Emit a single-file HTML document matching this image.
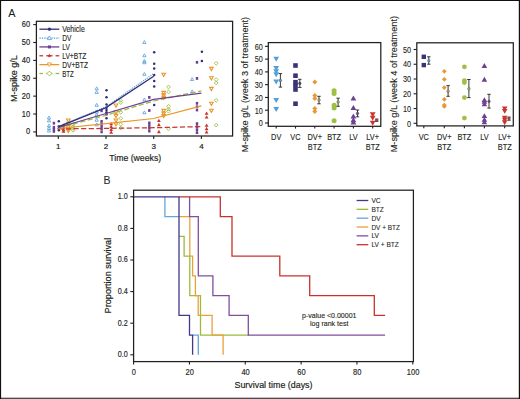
<!DOCTYPE html><html><head><meta charset="utf-8"><style>html,body{margin:0;padding:0;background:#fff;overflow:hidden}svg{display:block}text{font-family:"Liberation Sans",sans-serif;stroke:#231f20}</style></head><body>
<svg width="520" height="399" viewBox="0 0 520 399">
<rect x="0" y="0" width="520" height="399" fill="#fff"/>
<text x="8.3" y="17.2" font-size="11.2" text-anchor="start" fill="#231f20" textLength="7.2" lengthAdjust="spacingAndGlyphs" stroke-width="0.08">A</text>
<line x1="33.20" y1="131.90" x2="36.40" y2="131.90" stroke="#231f20" stroke-width="1.1"/>
<text transform="translate(30.1,134.45000000000002) scale(0.88,1)" font-size="8.5" text-anchor="end" fill="#231f20" stroke-width="0.18">0</text>
<line x1="33.20" y1="114.02" x2="36.40" y2="114.02" stroke="#231f20" stroke-width="1.1"/>
<text transform="translate(30.1,116.57000000000001) scale(0.88,1)" font-size="8.5" text-anchor="end" fill="#231f20" stroke-width="0.18">10</text>
<line x1="33.20" y1="96.14" x2="36.40" y2="96.14" stroke="#231f20" stroke-width="1.1"/>
<text transform="translate(30.1,98.69000000000001) scale(0.88,1)" font-size="8.5" text-anchor="end" fill="#231f20" stroke-width="0.18">20</text>
<line x1="33.20" y1="78.26" x2="36.40" y2="78.26" stroke="#231f20" stroke-width="1.1"/>
<text transform="translate(30.1,80.81) scale(0.88,1)" font-size="8.5" text-anchor="end" fill="#231f20" stroke-width="0.18">30</text>
<line x1="33.20" y1="60.38" x2="36.40" y2="60.38" stroke="#231f20" stroke-width="1.1"/>
<text transform="translate(30.1,62.93000000000001) scale(0.88,1)" font-size="8.5" text-anchor="end" fill="#231f20" stroke-width="0.18">40</text>
<line x1="33.20" y1="42.50" x2="36.40" y2="42.50" stroke="#231f20" stroke-width="1.1"/>
<text transform="translate(30.1,45.05) scale(0.88,1)" font-size="8.5" text-anchor="end" fill="#231f20" stroke-width="0.18">50</text>
<line x1="33.20" y1="24.62" x2="36.40" y2="24.62" stroke="#231f20" stroke-width="1.1"/>
<text transform="translate(30.1,27.170000000000005) scale(0.88,1)" font-size="8.5" text-anchor="end" fill="#231f20" stroke-width="0.18">60</text>
<line x1="58.30" y1="136.00" x2="58.30" y2="139.00" stroke="#231f20" stroke-width="1.1"/>
<text x="58.3" y="149.2" font-size="8.0" text-anchor="middle" fill="#231f20" stroke-width="0.2">1</text>
<line x1="106.00" y1="136.00" x2="106.00" y2="139.00" stroke="#231f20" stroke-width="1.1"/>
<text x="106.0" y="149.2" font-size="8.0" text-anchor="middle" fill="#231f20" stroke-width="0.2">2</text>
<line x1="153.70" y1="136.00" x2="153.70" y2="139.00" stroke="#231f20" stroke-width="1.1"/>
<text x="153.7" y="149.2" font-size="8.0" text-anchor="middle" fill="#231f20" stroke-width="0.2">3</text>
<line x1="201.40" y1="136.00" x2="201.40" y2="139.00" stroke="#231f20" stroke-width="1.1"/>
<text x="201.40000000000003" y="149.2" font-size="8.0" text-anchor="middle" fill="#231f20" stroke-width="0.2">4</text>
<text x="109.2" y="161.1" font-size="9.8" text-anchor="start" fill="#231f20" textLength="52.0" lengthAdjust="spacingAndGlyphs" stroke-width="0.2">Time (weeks)</text>
<text transform="translate(16.5,101.9) rotate(-90)" font-size="9.8" text-anchor="start" fill="#231f20" textLength="46.6" lengthAdjust="spacingAndGlyphs" stroke-width="0.2">M-spike g/L</text>
<polygon points="47.35,118.94 50.65,118.94 49.00,116.06" fill="none" stroke="#5ba3dc" stroke-width="0.85"/>
<polygon points="47.35,121.94 50.65,121.94 49.00,119.06" fill="none" stroke="#5ba3dc" stroke-width="0.85"/>
<polygon points="47.35,126.94 50.65,126.94 49.00,124.06" fill="none" stroke="#5ba3dc" stroke-width="0.85"/>
<polygon points="47.35,129.44 50.65,129.44 49.00,126.56" fill="none" stroke="#5ba3dc" stroke-width="0.85"/>
<polygon points="47.35,131.94 50.65,131.94 49.00,129.06" fill="none" stroke="#5ba3dc" stroke-width="0.85"/>
<polygon points="95.05,89.74 98.35,89.74 96.70,86.86" fill="none" stroke="#5ba3dc" stroke-width="0.85"/>
<polygon points="95.05,93.44 98.35,93.44 96.70,90.56" fill="none" stroke="#5ba3dc" stroke-width="0.85"/>
<polygon points="95.05,106.24 98.35,106.24 96.70,103.36" fill="none" stroke="#5ba3dc" stroke-width="0.85"/>
<polygon points="95.05,113.04 98.35,113.04 96.70,110.16" fill="none" stroke="#5ba3dc" stroke-width="0.85"/>
<polygon points="95.05,116.04 98.35,116.04 96.70,113.16" fill="none" stroke="#5ba3dc" stroke-width="0.85"/>
<polygon points="95.05,121.24 98.35,121.24 96.70,118.36" fill="none" stroke="#5ba3dc" stroke-width="0.85"/>
<polygon points="95.05,125.84 98.35,125.84 96.70,122.96" fill="none" stroke="#5ba3dc" stroke-width="0.85"/>
<polygon points="142.75,43.44 146.05,43.44 144.40,40.56" fill="none" stroke="#5ba3dc" stroke-width="0.85"/>
<polygon points="142.75,56.74 146.05,56.74 144.40,53.86" fill="none" stroke="#5ba3dc" stroke-width="0.85"/>
<polygon points="142.75,62.24 146.05,62.24 144.40,59.36" fill="none" stroke="#5ba3dc" stroke-width="0.85"/>
<polygon points="142.75,63.74 146.05,63.74 144.40,60.86" fill="none" stroke="#5ba3dc" stroke-width="0.85"/>
<polygon points="142.75,75.34 146.05,75.34 144.40,72.46" fill="none" stroke="#5ba3dc" stroke-width="0.85"/>
<polygon points="142.75,100.94 146.05,100.94 144.40,98.06" fill="none" stroke="#5ba3dc" stroke-width="0.85"/>
<polygon points="142.75,113.74 146.05,113.74 144.40,110.86" fill="none" stroke="#5ba3dc" stroke-width="0.85"/>
<polygon points="190.45,80.54 193.75,80.54 192.10,77.66" fill="none" stroke="#5ba3dc" stroke-width="0.85"/>
<polygon points="190.45,92.74 193.75,92.74 192.10,89.86" fill="none" stroke="#5ba3dc" stroke-width="0.85"/>
<rect x="52.70" y="121.80" width="2.4" height="2.8" fill="#6e3f96"/>
<rect x="52.70" y="125.90" width="2.4" height="2.8" fill="#6e3f96"/>
<rect x="52.70" y="128.00" width="2.4" height="2.8" fill="#6e3f96"/>
<rect x="52.70" y="130.00" width="2.4" height="2.8" fill="#6e3f96"/>
<rect x="100.40" y="109.40" width="2.4" height="2.8" fill="#6e3f96"/>
<rect x="100.40" y="120.00" width="2.4" height="2.8" fill="#6e3f96"/>
<rect x="100.40" y="122.60" width="2.4" height="2.8" fill="#6e3f96"/>
<rect x="100.40" y="125.10" width="2.4" height="2.8" fill="#6e3f96"/>
<rect x="100.40" y="127.60" width="2.4" height="2.8" fill="#6e3f96"/>
<rect x="100.40" y="130.50" width="2.4" height="2.8" fill="#6e3f96"/>
<rect x="148.10" y="96.00" width="2.4" height="2.8" fill="#6e3f96"/>
<rect x="148.10" y="109.10" width="2.4" height="2.8" fill="#6e3f96"/>
<rect x="148.10" y="121.50" width="2.4" height="2.8" fill="#6e3f96"/>
<rect x="148.10" y="124.10" width="2.4" height="2.8" fill="#6e3f96"/>
<rect x="148.10" y="126.80" width="2.4" height="2.8" fill="#6e3f96"/>
<rect x="148.10" y="129.70" width="2.4" height="2.8" fill="#6e3f96"/>
<rect x="195.80" y="60.90" width="2.4" height="2.8" fill="#6e3f96"/>
<rect x="195.80" y="77.00" width="2.4" height="2.8" fill="#6e3f96"/>
<rect x="195.80" y="101.90" width="2.4" height="2.8" fill="#6e3f96"/>
<rect x="195.80" y="105.30" width="2.4" height="2.8" fill="#6e3f96"/>
<rect x="195.80" y="108.60" width="2.4" height="2.8" fill="#6e3f96"/>
<rect x="195.80" y="122.20" width="2.4" height="2.8" fill="#6e3f96"/>
<rect x="195.80" y="125.20" width="2.4" height="2.8" fill="#6e3f96"/>
<rect x="195.80" y="128.20" width="2.4" height="2.8" fill="#6e3f96"/>
<rect x="195.80" y="131.20" width="2.4" height="2.8" fill="#6e3f96"/>
<circle cx="58.80" cy="121.30" r="1.25" fill="#332d78"/>
<circle cx="58.80" cy="126.20" r="1.25" fill="#332d78"/>
<circle cx="58.80" cy="128.20" r="1.25" fill="#332d78"/>
<circle cx="58.80" cy="130.30" r="1.25" fill="#332d78"/>
<circle cx="106.50" cy="90.20" r="1.25" fill="#332d78"/>
<circle cx="106.50" cy="97.30" r="1.25" fill="#332d78"/>
<circle cx="106.50" cy="104.40" r="1.25" fill="#332d78"/>
<circle cx="106.50" cy="107.80" r="1.25" fill="#332d78"/>
<circle cx="106.50" cy="110.00" r="1.25" fill="#332d78"/>
<circle cx="106.50" cy="112.30" r="1.25" fill="#332d78"/>
<circle cx="106.50" cy="114.60" r="1.25" fill="#332d78"/>
<circle cx="106.50" cy="118.30" r="1.25" fill="#332d78"/>
<circle cx="154.20" cy="52.30" r="1.25" fill="#332d78"/>
<circle cx="154.20" cy="63.80" r="1.25" fill="#332d78"/>
<circle cx="154.20" cy="68.60" r="1.25" fill="#332d78"/>
<circle cx="154.20" cy="75.10" r="1.25" fill="#332d78"/>
<circle cx="154.20" cy="81.10" r="1.25" fill="#332d78"/>
<circle cx="154.20" cy="86.40" r="1.25" fill="#332d78"/>
<circle cx="154.20" cy="105.00" r="1.25" fill="#332d78"/>
<circle cx="201.90" cy="51.80" r="1.25" fill="#332d78"/>
<circle cx="201.90" cy="61.10" r="1.25" fill="#332d78"/>
<polygon points="61.60,126.65 65.40,126.65 63.50,123.35" fill="#c5362e"/>
<polygon points="61.60,129.15 65.40,129.15 63.50,125.85" fill="#c5362e"/>
<polygon points="61.60,131.15 65.40,131.15 63.50,127.85" fill="#c5362e"/>
<polygon points="61.60,132.65 65.40,132.65 63.50,129.35" fill="#c5362e"/>
<polygon points="109.30,125.25 113.10,125.25 111.20,121.95" fill="#c5362e"/>
<polygon points="109.30,128.15 113.10,128.15 111.20,124.85" fill="#c5362e"/>
<polygon points="109.30,130.95 113.10,130.95 111.20,127.65" fill="#c5362e"/>
<polygon points="109.30,133.65 113.10,133.65 111.20,130.35" fill="#c5362e"/>
<polygon points="157.00,122.05 160.80,122.05 158.90,118.75" fill="#c5362e"/>
<polygon points="157.00,126.15 160.80,126.15 158.90,122.85" fill="#c5362e"/>
<polygon points="157.00,133.15 160.80,133.15 158.90,129.85" fill="#c5362e"/>
<polygon points="204.70,114.75 208.50,114.75 206.60,111.45" fill="#c5362e"/>
<polygon points="204.70,118.45 208.50,118.45 206.60,115.15" fill="#c5362e"/>
<polygon points="204.70,126.75 208.50,126.75 206.60,123.45" fill="#c5362e"/>
<polygon points="204.70,130.15 208.50,130.15 206.60,126.85" fill="#c5362e"/>
<polygon points="204.70,133.55 208.50,133.55 206.60,130.25" fill="#c5362e"/>
<polygon points="66.45,118.99 70.15,118.99 68.30,122.21" fill="none" stroke="#e9972b" stroke-width="1.05"/>
<polygon points="66.45,122.39 70.15,122.39 68.30,125.61" fill="none" stroke="#e9972b" stroke-width="1.05"/>
<polygon points="66.45,125.39 70.15,125.39 68.30,128.61" fill="none" stroke="#e9972b" stroke-width="1.05"/>
<polygon points="66.45,127.89 70.15,127.89 68.30,131.11" fill="none" stroke="#e9972b" stroke-width="1.05"/>
<polygon points="66.45,129.39 70.15,129.39 68.30,132.61" fill="none" stroke="#e9972b" stroke-width="1.05"/>
<polygon points="114.15,103.99 117.85,103.99 116.00,107.21" fill="none" stroke="#e9972b" stroke-width="1.05"/>
<polygon points="114.15,110.69 117.85,110.69 116.00,113.91" fill="none" stroke="#e9972b" stroke-width="1.05"/>
<polygon points="114.15,114.39 117.85,114.39 116.00,117.61" fill="none" stroke="#e9972b" stroke-width="1.05"/>
<polygon points="114.15,118.99 117.85,118.99 116.00,122.21" fill="none" stroke="#e9972b" stroke-width="1.05"/>
<polygon points="114.15,122.79 117.85,122.79 116.00,126.01" fill="none" stroke="#e9972b" stroke-width="1.05"/>
<polygon points="161.85,73.19 165.55,73.19 163.70,76.41" fill="none" stroke="#e9972b" stroke-width="1.05"/>
<polygon points="161.85,91.39 165.55,91.39 163.70,94.61" fill="none" stroke="#e9972b" stroke-width="1.05"/>
<polygon points="161.85,93.89 165.55,93.89 163.70,97.11" fill="none" stroke="#e9972b" stroke-width="1.05"/>
<polygon points="161.85,96.19 165.55,96.19 163.70,99.41" fill="none" stroke="#e9972b" stroke-width="1.05"/>
<polygon points="161.85,109.39 165.55,109.39 163.70,112.61" fill="none" stroke="#e9972b" stroke-width="1.05"/>
<polygon points="161.85,111.99 165.55,111.99 163.70,115.21" fill="none" stroke="#e9972b" stroke-width="1.05"/>
<polygon points="161.85,114.59 165.55,114.59 163.70,117.81" fill="none" stroke="#e9972b" stroke-width="1.05"/>
<polygon points="209.55,67.39 213.25,67.39 211.40,70.61" fill="none" stroke="#e9972b" stroke-width="1.05"/>
<polygon points="209.55,76.79 213.25,76.79 211.40,80.01" fill="none" stroke="#e9972b" stroke-width="1.05"/>
<polygon points="209.55,87.39 213.25,87.39 211.40,90.61" fill="none" stroke="#e9972b" stroke-width="1.05"/>
<polygon points="209.55,102.19 213.25,102.19 211.40,105.41" fill="none" stroke="#e9972b" stroke-width="1.05"/>
<polygon points="209.55,109.19 213.25,109.19 211.40,112.41" fill="none" stroke="#e9972b" stroke-width="1.05"/>
<polygon points="73.10,122.40 75.00,124.30 73.10,126.20 71.20,124.30" fill="none" stroke="#9cbb3c" stroke-width="0.85"/>
<polygon points="73.10,124.60 75.00,126.50 73.10,128.40 71.20,126.50" fill="none" stroke="#9cbb3c" stroke-width="0.85"/>
<polygon points="73.10,126.60 75.00,128.50 73.10,130.40 71.20,128.50" fill="none" stroke="#9cbb3c" stroke-width="0.85"/>
<polygon points="73.10,128.40 75.00,130.30 73.10,132.20 71.20,130.30" fill="none" stroke="#9cbb3c" stroke-width="0.85"/>
<polygon points="120.80,98.40 122.70,100.30 120.80,102.20 118.90,100.30" fill="none" stroke="#9cbb3c" stroke-width="0.85"/>
<polygon points="120.80,100.70 122.70,102.60 120.80,104.50 118.90,102.60" fill="none" stroke="#9cbb3c" stroke-width="0.85"/>
<polygon points="120.80,110.40 122.70,112.30 120.80,114.20 118.90,112.30" fill="none" stroke="#9cbb3c" stroke-width="0.85"/>
<polygon points="120.80,116.40 122.70,118.30 120.80,120.20 118.90,118.30" fill="none" stroke="#9cbb3c" stroke-width="0.85"/>
<polygon points="120.80,122.50 122.70,124.40 120.80,126.30 118.90,124.40" fill="none" stroke="#9cbb3c" stroke-width="0.85"/>
<polygon points="120.80,126.20 122.70,128.10 120.80,130.00 118.90,128.10" fill="none" stroke="#9cbb3c" stroke-width="0.85"/>
<polygon points="168.50,85.10 170.40,87.00 168.50,88.90 166.60,87.00" fill="none" stroke="#9cbb3c" stroke-width="0.85"/>
<polygon points="168.50,90.00 170.40,91.90 168.50,93.80 166.60,91.90" fill="none" stroke="#9cbb3c" stroke-width="0.85"/>
<polygon points="168.50,104.40 170.40,106.30 168.50,108.20 166.60,106.30" fill="none" stroke="#9cbb3c" stroke-width="0.85"/>
<polygon points="168.50,107.20 170.40,109.10 168.50,111.00 166.60,109.10" fill="none" stroke="#9cbb3c" stroke-width="0.85"/>
<polygon points="168.50,109.30 170.40,111.20 168.50,113.10 166.60,111.20" fill="none" stroke="#9cbb3c" stroke-width="0.85"/>
<polygon points="168.50,126.90 170.40,128.80 168.50,130.70 166.60,128.80" fill="none" stroke="#9cbb3c" stroke-width="0.85"/>
<polygon points="216.20,61.40 218.10,63.30 216.20,65.20 214.30,63.30" fill="none" stroke="#9cbb3c" stroke-width="0.85"/>
<polygon points="216.20,77.70 218.10,79.60 216.20,81.50 214.30,79.60" fill="none" stroke="#9cbb3c" stroke-width="0.85"/>
<polygon points="216.20,81.10 218.10,83.00 216.20,84.90 214.30,83.00" fill="none" stroke="#9cbb3c" stroke-width="0.85"/>
<polygon points="216.20,98.40 218.10,100.30 216.20,102.20 214.30,100.30" fill="none" stroke="#9cbb3c" stroke-width="0.85"/>
<polygon points="216.20,123.20 218.10,125.10 216.20,127.00 214.30,125.10" fill="none" stroke="#9cbb3c" stroke-width="0.85"/>
<polyline points="58.30,128.90 106.00,128.40 153.70,127.70 201.40,126.60" fill="none" stroke="#c5362e" stroke-width="1.25" stroke-dasharray="5.2,2.4"/>
<polyline points="58.30,128.50 106.00,123.60 153.70,118.50 201.40,105.90" fill="none" stroke="#e9972b" stroke-width="1.25"/>
<polyline points="58.30,128.00 106.00,115.30 153.70,101.00 201.40,90.80" fill="none" stroke="#9cbb3c" stroke-width="1.25" stroke-dasharray="5.2,2.4"/>
<polyline points="58.30,127.50 106.00,113.50 153.70,99.30 201.40,93.20" fill="none" stroke="#6e3f96" stroke-width="1.25"/>
<polyline points="58.30,126.40 106.00,106.80 153.70,73.60" fill="none" stroke="#5ba3dc" stroke-width="1.25" stroke-dasharray="1.2,1"/>
<polyline points="58.30,126.80 106.00,107.60 153.70,76.20" fill="none" stroke="#332d78" stroke-width="1.25"/>
<line x1="39.4" y1="29.20" x2="59.3" y2="29.20" stroke="#332d78" stroke-width="1.3"/>
<circle cx="49.40" cy="29.20" r="1.6" fill="#332d78"/>
<text x="62.2" y="32.2" font-size="8.6" text-anchor="start" fill="#231f20" textLength="22.6" lengthAdjust="spacingAndGlyphs" stroke-width="0.12">Vehicle</text>
<line x1="39.4" y1="38.06" x2="59.3" y2="38.06" stroke="#5ba3dc" stroke-width="1.3" stroke-dasharray="1.4,1"/>
<polygon points="47.30,39.59 51.50,39.59 49.40,35.93" fill="#fff" stroke="#5ba3dc" stroke-width="0.85"/>
<text x="62.2" y="41.06" font-size="8.6" text-anchor="start" fill="#231f20" textLength="9.2" lengthAdjust="spacingAndGlyphs" stroke-width="0.12">DV</text>
<line x1="39.4" y1="46.92" x2="59.3" y2="46.92" stroke="#6e3f96" stroke-width="1.3"/>
<rect x="47.90" y="45.42" width="3.0" height="3.0" fill="#6e3f96"/>
<text x="62.2" y="49.92" font-size="8.6" text-anchor="start" fill="#231f20" textLength="7.6" lengthAdjust="spacingAndGlyphs" stroke-width="0.12">LV</text>
<line x1="39.4" y1="55.78" x2="43.1" y2="55.78" stroke="#c5362e" stroke-width="1.3"/>
<line x1="46.3" y1="55.78" x2="52.5" y2="55.78" stroke="#c5362e" stroke-width="1.3"/>
<line x1="55.6" y1="55.78" x2="59.3" y2="55.78" stroke="#c5362e" stroke-width="1.3"/>
<polygon points="49.40,53.58 50.02,54.93 51.49,55.10 50.40,56.10 50.69,57.56 49.40,56.83 48.11,57.56 48.40,56.10 47.31,55.10 48.78,54.93" fill="#c5362e"/>
<text x="62.2" y="58.78" font-size="8.6" text-anchor="start" fill="#231f20" textLength="24.2" lengthAdjust="spacingAndGlyphs" stroke-width="0.12">LV+BTZ</text>
<line x1="39.4" y1="64.64" x2="59.3" y2="64.64" stroke="#e9972b" stroke-width="1.3"/>
<polygon points="47.40,62.90 51.40,62.90 49.40,66.38" fill="#fff" stroke="#e9972b" stroke-width="0.85"/>
<text x="62.2" y="67.64" font-size="8.6" text-anchor="start" fill="#231f20" textLength="25.8" lengthAdjust="spacingAndGlyphs" stroke-width="0.12">DV+BTZ</text>
<line x1="39.4" y1="73.50" x2="43.1" y2="73.50" stroke="#9cbb3c" stroke-width="1.3"/>
<line x1="46.3" y1="73.50" x2="52.5" y2="73.50" stroke="#9cbb3c" stroke-width="1.3"/>
<line x1="55.6" y1="73.50" x2="59.3" y2="73.50" stroke="#9cbb3c" stroke-width="1.3"/>
<polygon points="49.40,71.10 51.80,73.50 49.40,75.90 47.00,73.50" fill="#fff" stroke="#9cbb3c" stroke-width="0.9"/>
<text x="62.2" y="76.5" font-size="8.6" text-anchor="start" fill="#231f20" textLength="11.6" lengthAdjust="spacingAndGlyphs" stroke-width="0.12">BTZ</text>
<rect x="36.4" y="21.3" width="196.20" height="114.70" fill="none" stroke="#231f20" stroke-width="1.25"/>
<line x1="265.00" y1="123.00" x2="268.30" y2="123.00" stroke="#231f20" stroke-width="1.1"/>
<text transform="translate(262.9,126.3) scale(0.88,1)" font-size="8.3" text-anchor="end" fill="#231f20" stroke-width="0.1">0</text>
<line x1="265.00" y1="110.22" x2="268.30" y2="110.22" stroke="#231f20" stroke-width="1.1"/>
<text transform="translate(262.9,113.52499999999999) scale(0.88,1)" font-size="8.3" text-anchor="end" fill="#231f20" stroke-width="0.1">10</text>
<line x1="265.00" y1="97.45" x2="268.30" y2="97.45" stroke="#231f20" stroke-width="1.1"/>
<text transform="translate(262.9,100.75) scale(0.88,1)" font-size="8.3" text-anchor="end" fill="#231f20" stroke-width="0.1">20</text>
<line x1="265.00" y1="84.67" x2="268.30" y2="84.67" stroke="#231f20" stroke-width="1.1"/>
<text transform="translate(262.9,87.975) scale(0.88,1)" font-size="8.3" text-anchor="end" fill="#231f20" stroke-width="0.1">30</text>
<line x1="265.00" y1="71.90" x2="268.30" y2="71.90" stroke="#231f20" stroke-width="1.1"/>
<text transform="translate(262.9,75.2) scale(0.88,1)" font-size="8.3" text-anchor="end" fill="#231f20" stroke-width="0.1">40</text>
<line x1="265.00" y1="59.12" x2="268.30" y2="59.12" stroke="#231f20" stroke-width="1.1"/>
<text transform="translate(262.9,62.42499999999999) scale(0.88,1)" font-size="8.3" text-anchor="end" fill="#231f20" stroke-width="0.1">50</text>
<line x1="265.00" y1="46.35" x2="268.30" y2="46.35" stroke="#231f20" stroke-width="1.1"/>
<text transform="translate(262.9,49.64999999999999) scale(0.88,1)" font-size="8.3" text-anchor="end" fill="#231f20" stroke-width="0.1">60</text>
<line x1="276.20" y1="126.30" x2="276.20" y2="128.60" stroke="#231f20" stroke-width="1.1"/>
<line x1="295.50" y1="126.30" x2="295.50" y2="128.60" stroke="#231f20" stroke-width="1.1"/>
<line x1="314.80" y1="126.30" x2="314.80" y2="128.60" stroke="#231f20" stroke-width="1.1"/>
<line x1="334.10" y1="126.30" x2="334.10" y2="128.60" stroke="#231f20" stroke-width="1.1"/>
<line x1="353.40" y1="126.30" x2="353.40" y2="128.60" stroke="#231f20" stroke-width="1.1"/>
<line x1="372.70" y1="126.30" x2="372.70" y2="128.60" stroke="#231f20" stroke-width="1.1"/>
<text transform="translate(276.2,139.8) scale(0.9,1)" font-size="8.2" text-anchor="middle" fill="#231f20" stroke-width="0.12">DV</text>
<text transform="translate(295.5,139.8) scale(0.9,1)" font-size="8.2" text-anchor="middle" fill="#231f20" stroke-width="0.12">VC</text>
<text transform="translate(314.8,139.8) scale(0.9,1)" font-size="8.2" text-anchor="middle" fill="#231f20" stroke-width="0.12">DV+</text>
<text transform="translate(314.8,149.5) scale(0.9,1)" font-size="8.2" text-anchor="middle" fill="#231f20" stroke-width="0.12">BTZ</text>
<text transform="translate(334.1,139.8) scale(0.9,1)" font-size="8.2" text-anchor="middle" fill="#231f20" stroke-width="0.12">BTZ</text>
<text transform="translate(353.4,139.8) scale(0.9,1)" font-size="8.2" text-anchor="middle" fill="#231f20" stroke-width="0.12">LV</text>
<text transform="translate(372.7,139.8) scale(0.9,1)" font-size="8.2" text-anchor="middle" fill="#231f20" stroke-width="0.12">LV+</text>
<text transform="translate(372.7,149.5) scale(0.9,1)" font-size="8.2" text-anchor="middle" fill="#231f20" stroke-width="0.12">BTZ</text>
<text transform="translate(247.8,152.2) rotate(-90)" font-size="9.9" text-anchor="start" fill="#231f20" textLength="135.3" lengthAdjust="spacingAndGlyphs" stroke-width="0.12">M-spike g/L (week 3 of treatment)</text>
<rect x="268.3" y="42.6" width="112.50" height="83.70" fill="none" stroke="#231f20" stroke-width="1.25"/>
<polygon points="273.30,56.78 279.10,56.78 276.20,61.82" fill="#52a0da"/>
<polygon points="273.30,65.98 279.10,65.98 276.20,71.02" fill="#52a0da"/>
<polygon points="273.30,69.28 279.10,69.28 276.20,74.32" fill="#52a0da"/>
<polygon points="273.30,72.28 279.10,72.28 276.20,77.32" fill="#52a0da"/>
<polygon points="273.30,79.48 279.10,79.48 276.20,84.52" fill="#52a0da"/>
<polygon points="273.30,97.88 279.10,97.88 276.20,102.92" fill="#52a0da"/>
<polygon points="273.30,106.88 279.10,106.88 276.20,111.92" fill="#52a0da"/>
<line x1="280.40" y1="73.60" x2="280.40" y2="87.10" stroke="#231f20" stroke-width="0.9"/><line x1="278.70" y1="73.60" x2="282.10" y2="73.60" stroke="#231f20" stroke-width="0.9"/><line x1="278.70" y1="87.10" x2="282.10" y2="87.10" stroke="#231f20" stroke-width="0.9"/><circle cx="280.40" cy="80.50" r="1.3" fill="#52a0da" stroke="#555" stroke-width="0.5"/>
<rect x="293.20" y="63.20" width="4.6" height="4.6" fill="#3a3378"/>
<rect x="293.20" y="73.40" width="4.6" height="4.6" fill="#3a3378"/>
<rect x="293.20" y="79.90" width="4.6" height="4.6" fill="#3a3378"/>
<rect x="293.20" y="83.20" width="4.6" height="4.6" fill="#3a3378"/>
<rect x="293.20" y="87.20" width="4.6" height="4.6" fill="#3a3378"/>
<rect x="293.20" y="101.40" width="4.6" height="4.6" fill="#3a3378"/>
<line x1="299.80" y1="79.30" x2="299.80" y2="87.40" stroke="#231f20" stroke-width="0.9"/><line x1="298.10" y1="79.30" x2="301.50" y2="79.30" stroke="#231f20" stroke-width="0.9"/><line x1="298.10" y1="87.40" x2="301.50" y2="87.40" stroke="#231f20" stroke-width="0.9"/><circle cx="299.80" cy="83.40" r="1.3" fill="#3a3378" stroke="#555" stroke-width="0.5"/>
<polygon points="314.80,79.40 317.30,81.90 314.80,84.40 312.30,81.90" fill="#e69a35"/>
<polygon points="314.80,93.00 317.30,95.50 314.80,98.00 312.30,95.50" fill="#e69a35"/>
<polygon points="314.80,96.00 317.30,98.50 314.80,101.00 312.30,98.50" fill="#e69a35"/>
<polygon points="314.80,106.00 317.30,108.50 314.80,111.00 312.30,108.50" fill="#e69a35"/>
<polygon points="314.80,109.00 317.30,111.50 314.80,114.00 312.30,111.50" fill="#e69a35"/>
<line x1="319.00" y1="96.30" x2="319.00" y2="103.80" stroke="#231f20" stroke-width="0.9"/><line x1="317.30" y1="96.30" x2="320.70" y2="96.30" stroke="#231f20" stroke-width="0.9"/><line x1="317.30" y1="103.80" x2="320.70" y2="103.80" stroke="#231f20" stroke-width="0.9"/><circle cx="319.00" cy="100.10" r="1.3" fill="#e69a35" stroke="#555" stroke-width="0.5"/>
<circle cx="334.10" cy="90.80" r="2.5" fill="#9fc045"/>
<circle cx="334.10" cy="93.60" r="2.5" fill="#9fc045"/>
<circle cx="334.10" cy="105.20" r="2.5" fill="#9fc045"/>
<circle cx="334.10" cy="108.00" r="2.5" fill="#9fc045"/>
<circle cx="334.10" cy="120.70" r="2.5" fill="#9fc045"/>
<line x1="338.10" y1="98.20" x2="338.10" y2="106.30" stroke="#231f20" stroke-width="0.9"/><line x1="336.40" y1="98.20" x2="339.80" y2="98.20" stroke="#231f20" stroke-width="0.9"/><line x1="336.40" y1="106.30" x2="339.80" y2="106.30" stroke="#231f20" stroke-width="0.9"/><circle cx="338.10" cy="102.00" r="1.3" fill="#9fc045" stroke="#555" stroke-width="0.5"/>
<polygon points="350.50,100.42 356.30,100.42 353.40,95.38" fill="#6e4093"/>
<polygon points="350.50,109.92 356.30,109.92 353.40,104.88" fill="#6e4093"/>
<polygon points="350.50,118.52 356.30,118.52 353.40,113.48" fill="#6e4093"/>
<polygon points="350.50,122.32 356.30,122.32 353.40,117.28" fill="#6e4093"/>
<polygon points="350.50,124.52 356.30,124.52 353.40,119.48" fill="#6e4093"/>
<line x1="357.50" y1="110.00" x2="357.50" y2="116.80" stroke="#231f20" stroke-width="0.9"/><line x1="355.80" y1="110.00" x2="359.20" y2="110.00" stroke="#231f20" stroke-width="0.9"/><line x1="355.80" y1="116.80" x2="359.20" y2="116.80" stroke="#231f20" stroke-width="0.9"/><circle cx="357.50" cy="113.50" r="1.3" fill="#6e4093" stroke="#555" stroke-width="0.5"/>
<polygon points="369.80,112.28 375.60,112.28 372.70,117.32" fill="#cc3430"/>
<polygon points="369.80,115.68 375.60,115.68 372.70,120.72" fill="#cc3430"/>
<polygon points="369.80,120.68 375.60,120.68 372.70,125.72" fill="#cc3430"/>
<line x1="376.70" y1="119.10" x2="376.70" y2="121.40" stroke="#231f20" stroke-width="0.9"/><line x1="375.00" y1="119.10" x2="378.40" y2="119.10" stroke="#231f20" stroke-width="0.9"/><line x1="375.00" y1="121.40" x2="378.40" y2="121.40" stroke="#231f20" stroke-width="0.9"/><circle cx="376.70" cy="120.20" r="1.3" fill="#cc3430" stroke="#555" stroke-width="0.5"/>
<line x1="413.60" y1="123.30" x2="416.80" y2="123.30" stroke="#231f20" stroke-width="1.1"/>
<text transform="translate(411.1,126.5) scale(0.88,1)" font-size="8.3" text-anchor="end" fill="#231f20" stroke-width="0.1">0</text>
<line x1="413.60" y1="108.54" x2="416.80" y2="108.54" stroke="#231f20" stroke-width="1.1"/>
<text transform="translate(411.1,111.74) scale(0.88,1)" font-size="8.3" text-anchor="end" fill="#231f20" stroke-width="0.1">10</text>
<line x1="413.60" y1="93.78" x2="416.80" y2="93.78" stroke="#231f20" stroke-width="1.1"/>
<text transform="translate(411.1,96.98) scale(0.88,1)" font-size="8.3" text-anchor="end" fill="#231f20" stroke-width="0.1">20</text>
<line x1="413.60" y1="79.02" x2="416.80" y2="79.02" stroke="#231f20" stroke-width="1.1"/>
<text transform="translate(411.1,82.22) scale(0.88,1)" font-size="8.3" text-anchor="end" fill="#231f20" stroke-width="0.1">30</text>
<line x1="413.60" y1="64.26" x2="416.80" y2="64.26" stroke="#231f20" stroke-width="1.1"/>
<text transform="translate(411.1,67.46) scale(0.88,1)" font-size="8.3" text-anchor="end" fill="#231f20" stroke-width="0.1">40</text>
<line x1="413.60" y1="49.50" x2="416.80" y2="49.50" stroke="#231f20" stroke-width="1.1"/>
<text transform="translate(411.1,52.7) scale(0.88,1)" font-size="8.3" text-anchor="end" fill="#231f20" stroke-width="0.1">50</text>
<line x1="423.80" y1="125.90" x2="423.80" y2="128.30" stroke="#231f20" stroke-width="1.1"/>
<line x1="444.30" y1="125.90" x2="444.30" y2="128.30" stroke="#231f20" stroke-width="1.1"/>
<line x1="464.40" y1="125.90" x2="464.40" y2="128.30" stroke="#231f20" stroke-width="1.1"/>
<line x1="484.40" y1="125.90" x2="484.40" y2="128.30" stroke="#231f20" stroke-width="1.1"/>
<line x1="504.70" y1="125.90" x2="504.70" y2="128.30" stroke="#231f20" stroke-width="1.1"/>
<text transform="translate(423.8,139.8) scale(0.9,1)" font-size="8.2" text-anchor="middle" fill="#231f20" stroke-width="0.12">VC</text>
<text transform="translate(444.3,139.8) scale(0.9,1)" font-size="8.2" text-anchor="middle" fill="#231f20" stroke-width="0.12">DV+</text>
<text transform="translate(444.3,149.5) scale(0.9,1)" font-size="8.2" text-anchor="middle" fill="#231f20" stroke-width="0.12">BTZ</text>
<text transform="translate(464.4,139.8) scale(0.9,1)" font-size="8.2" text-anchor="middle" fill="#231f20" stroke-width="0.12">BTZ</text>
<text transform="translate(484.4,139.8) scale(0.9,1)" font-size="8.2" text-anchor="middle" fill="#231f20" stroke-width="0.12">LV</text>
<text transform="translate(504.7,139.8) scale(0.9,1)" font-size="8.2" text-anchor="middle" fill="#231f20" stroke-width="0.12">LV+</text>
<text transform="translate(504.7,149.5) scale(0.9,1)" font-size="8.2" text-anchor="middle" fill="#231f20" stroke-width="0.12">BTZ</text>
<text transform="translate(397.3,152.3) rotate(-90)" font-size="9.9" text-anchor="start" fill="#231f20" textLength="136.3" lengthAdjust="spacingAndGlyphs" stroke-width="0.12">M-spike g/L (week 4 of treatment)</text>
<rect x="416.8" y="42.8" width="96.50" height="83.10" fill="none" stroke="#231f20" stroke-width="1.25"/>
<rect x="421.60" y="54.60" width="4.3999999999999995" height="4.3999999999999995" fill="#3a3378"/>
<rect x="421.60" y="62.90" width="4.3999999999999995" height="4.3999999999999995" fill="#3a3378"/>
<line x1="428.80" y1="56.80" x2="428.80" y2="64.20" stroke="#231f20" stroke-width="0.9"/><line x1="427.10" y1="56.80" x2="430.50" y2="56.80" stroke="#231f20" stroke-width="0.9"/><line x1="427.10" y1="64.20" x2="430.50" y2="64.20" stroke="#231f20" stroke-width="0.9"/><circle cx="428.80" cy="60.70" r="1.3" fill="#5aa5dc" stroke="#555" stroke-width="0.5"/>
<polygon points="444.30,68.90 446.70,71.30 444.30,73.70 441.90,71.30" fill="#e69a35"/>
<polygon points="444.30,76.90 446.70,79.30 444.30,81.70 441.90,79.30" fill="#e69a35"/>
<polygon points="444.30,85.20 446.70,87.60 444.30,90.00 441.90,87.60" fill="#e69a35"/>
<polygon points="444.30,96.90 446.70,99.30 444.30,101.70 441.90,99.30" fill="#e69a35"/>
<polygon points="444.30,102.70 446.70,105.10 444.30,107.50 441.90,105.10" fill="#e69a35"/>
<polygon points="444.30,104.00 446.70,106.40 444.30,108.80 441.90,106.40" fill="#e69a35"/>
<line x1="448.10" y1="85.60" x2="448.10" y2="96.30" stroke="#231f20" stroke-width="0.9"/><line x1="446.40" y1="85.60" x2="449.80" y2="85.60" stroke="#231f20" stroke-width="0.9"/><line x1="446.40" y1="96.30" x2="449.80" y2="96.30" stroke="#231f20" stroke-width="0.9"/><circle cx="448.10" cy="91.30" r="1.3" fill="#e69a35" stroke="#555" stroke-width="0.5"/>
<circle cx="464.40" cy="66.80" r="2.4" fill="#9fc045"/>
<circle cx="464.40" cy="80.60" r="2.4" fill="#9fc045"/>
<circle cx="464.40" cy="82.60" r="2.4" fill="#9fc045"/>
<circle cx="464.40" cy="97.60" r="2.4" fill="#9fc045"/>
<circle cx="464.40" cy="118.10" r="2.4" fill="#9fc045"/>
<line x1="468.90" y1="79.50" x2="468.90" y2="97.60" stroke="#231f20" stroke-width="0.9"/><line x1="467.20" y1="79.50" x2="470.60" y2="79.50" stroke="#231f20" stroke-width="0.9"/><line x1="467.20" y1="97.60" x2="470.60" y2="97.60" stroke="#231f20" stroke-width="0.9"/><circle cx="468.90" cy="88.80" r="1.3" fill="#9fc045" stroke="#555" stroke-width="0.5"/>
<polygon points="481.60,67.94 487.20,67.94 484.40,63.06" fill="#6e4093"/>
<polygon points="481.60,81.74 487.20,81.74 484.40,76.86" fill="#6e4093"/>
<polygon points="481.60,102.04 487.20,102.04 484.40,97.16" fill="#6e4093"/>
<polygon points="481.60,103.84 487.20,103.84 484.40,98.96" fill="#6e4093"/>
<polygon points="481.60,106.34 487.20,106.34 484.40,101.46" fill="#6e4093"/>
<polygon points="481.60,118.04 487.20,118.04 484.40,113.16" fill="#6e4093"/>
<polygon points="481.60,121.84 487.20,121.84 484.40,116.96" fill="#6e4093"/>
<polygon points="481.60,124.34 487.20,124.34 484.40,119.46" fill="#6e4093"/>
<line x1="489.00" y1="94.30" x2="489.00" y2="108.10" stroke="#231f20" stroke-width="0.9"/><line x1="487.30" y1="94.30" x2="490.70" y2="94.30" stroke="#231f20" stroke-width="0.9"/><line x1="487.30" y1="108.10" x2="490.70" y2="108.10" stroke="#231f20" stroke-width="0.9"/><circle cx="489.00" cy="101.40" r="1.3" fill="#6e4093" stroke="#555" stroke-width="0.5"/>
<polygon points="501.90,106.46 507.50,106.46 504.70,111.34" fill="#cc3430"/>
<polygon points="501.90,108.96 507.50,108.96 504.70,113.84" fill="#cc3430"/>
<polygon points="501.90,115.66 507.50,115.66 504.70,120.54" fill="#cc3430"/>
<polygon points="501.90,117.76 507.50,117.76 504.70,122.64" fill="#cc3430"/>
<polygon points="501.90,120.26 507.50,120.26 504.70,125.14" fill="#cc3430"/>
<line x1="509.00" y1="117.10" x2="509.00" y2="120.20" stroke="#231f20" stroke-width="0.9"/><line x1="507.30" y1="117.10" x2="510.70" y2="117.10" stroke="#231f20" stroke-width="0.9"/><line x1="507.30" y1="120.20" x2="510.70" y2="120.20" stroke="#231f20" stroke-width="0.9"/><circle cx="509.00" cy="118.60" r="1.3" fill="#cc3430" stroke="#555" stroke-width="0.5"/>
<text x="103.5" y="184.2" font-size="11.2" text-anchor="start" fill="#231f20" textLength="7.0" lengthAdjust="spacingAndGlyphs" stroke-width="0.05">B</text>
<line x1="130.30" y1="354.80" x2="133.60" y2="354.80" stroke="#231f20" stroke-width="1.1"/>
<text transform="translate(127.8,357.1) scale(0.88,1)" font-size="8.2" text-anchor="end" fill="#231f20" stroke-width="0.15">0.0</text>
<line x1="130.30" y1="323.20" x2="133.60" y2="323.20" stroke="#231f20" stroke-width="1.1"/>
<text transform="translate(127.8,325.5) scale(0.88,1)" font-size="8.2" text-anchor="end" fill="#231f20" stroke-width="0.15">0.2</text>
<line x1="130.30" y1="291.60" x2="133.60" y2="291.60" stroke="#231f20" stroke-width="1.1"/>
<text transform="translate(127.8,293.90000000000003) scale(0.88,1)" font-size="8.2" text-anchor="end" fill="#231f20" stroke-width="0.15">0.4</text>
<line x1="130.30" y1="260.00" x2="133.60" y2="260.00" stroke="#231f20" stroke-width="1.1"/>
<text transform="translate(127.8,262.3) scale(0.88,1)" font-size="8.2" text-anchor="end" fill="#231f20" stroke-width="0.15">0.6</text>
<line x1="130.30" y1="228.40" x2="133.60" y2="228.40" stroke="#231f20" stroke-width="1.1"/>
<text transform="translate(127.8,230.70000000000002) scale(0.88,1)" font-size="8.2" text-anchor="end" fill="#231f20" stroke-width="0.15">0.8</text>
<line x1="130.30" y1="196.80" x2="133.60" y2="196.80" stroke="#231f20" stroke-width="1.1"/>
<text transform="translate(127.8,199.10000000000002) scale(0.88,1)" font-size="8.2" text-anchor="end" fill="#231f20" stroke-width="0.15">1.0</text>
<line x1="133.60" y1="361.60" x2="133.60" y2="364.40" stroke="#231f20" stroke-width="1.1"/>
<text transform="translate(133.9,374.6) scale(0.88,1)" font-size="8.5" text-anchor="middle" fill="#231f20" stroke-width="0.15">0</text>
<line x1="189.44" y1="361.60" x2="189.44" y2="364.40" stroke="#231f20" stroke-width="1.1"/>
<text transform="translate(189.74,374.6) scale(0.88,1)" font-size="8.5" text-anchor="middle" fill="#231f20" stroke-width="0.15">20</text>
<line x1="245.28" y1="361.60" x2="245.28" y2="364.40" stroke="#231f20" stroke-width="1.1"/>
<text transform="translate(245.57999999999998,374.6) scale(0.88,1)" font-size="8.5" text-anchor="middle" fill="#231f20" stroke-width="0.15">40</text>
<line x1="301.12" y1="361.60" x2="301.12" y2="364.40" stroke="#231f20" stroke-width="1.1"/>
<text transform="translate(301.42,374.6) scale(0.88,1)" font-size="8.5" text-anchor="middle" fill="#231f20" stroke-width="0.15">60</text>
<line x1="356.96" y1="361.60" x2="356.96" y2="364.40" stroke="#231f20" stroke-width="1.1"/>
<text transform="translate(357.26,374.6) scale(0.88,1)" font-size="8.5" text-anchor="middle" fill="#231f20" stroke-width="0.15">80</text>
<line x1="412.80" y1="361.60" x2="412.80" y2="364.40" stroke="#231f20" stroke-width="1.1"/>
<text transform="translate(413.09999999999997,374.6) scale(0.88,1)" font-size="8.5" text-anchor="middle" fill="#231f20" stroke-width="0.15">100</text>
<text x="234.5" y="387.8" font-size="9.8" text-anchor="start" fill="#231f20" textLength="78" lengthAdjust="spacingAndGlyphs" stroke-width="0.2">Survival time (days)</text>
<text transform="translate(111.4,313.4) rotate(-90)" font-size="9.8" text-anchor="start" fill="#231f20" textLength="75.6" lengthAdjust="spacingAndGlyphs" stroke-width="0.2">Proportion survival</text>
<polyline points="164.90,196.80 164.90,216.55 179.00,216.55" fill="none" stroke="#62a6dc" stroke-width="1.3" stroke-linejoin="miter" stroke-linecap="butt"/>
<polyline points="192.60,335.05 198.30,335.05 198.30,354.80" fill="none" stroke="#62a6dc" stroke-width="1.3" stroke-linejoin="miter" stroke-linecap="butt"/>
<polyline points="179.00,236.30 184.10,236.30 184.10,256.05 189.80,256.05 189.80,295.55 200.50,295.55 200.50,335.05 249.00,335.05" fill="none" stroke="#9cbb3c" stroke-width="1.3" stroke-linejoin="miter" stroke-linecap="butt"/>
<polyline points="179.00,216.55 189.80,216.55 189.80,256.05 192.60,256.05 192.60,275.80 195.40,275.80 195.40,295.55 198.20,295.55 198.20,315.30 212.10,315.30 212.10,335.05 223.10,335.05 223.10,354.80" fill="none" stroke="#e9a23b" stroke-width="1.3" stroke-linejoin="miter" stroke-linecap="butt"/>
<polyline points="189.60,196.80 189.60,216.55 198.30,216.55 198.30,275.80 212.90,275.80 212.90,295.55 229.10,295.55 229.10,315.30 248.30,315.30 248.30,335.05 385.10,335.05" fill="none" stroke="#7f4f9f" stroke-width="1.3" stroke-linejoin="miter" stroke-linecap="butt"/>
<polyline points="179.00,196.80 220.30,196.80 220.30,216.55 232.00,216.55 232.00,256.05 279.80,256.05 279.80,275.80 309.70,275.80 309.70,295.55 374.30,295.55 374.30,315.30 385.10,315.30" fill="none" stroke="#c9322c" stroke-width="1.3" stroke-linejoin="miter" stroke-linecap="butt"/>
<polyline points="133.60,196.80 179.00,196.80 179.00,315.30 189.50,315.30 189.50,335.05 192.60,335.05 192.60,354.80" fill="none" stroke="#43388a" stroke-width="1.3" stroke-linejoin="miter" stroke-linecap="butt"/>
<rect x="133.6" y="190.2" width="279.80" height="171.40" fill="none" stroke="#231f20" stroke-width="1.25"/>
<line x1="356.60" y1="200.50" x2="368.30" y2="200.50" stroke="#43388a" stroke-width="1.3"/>
<text transform="translate(371.4,203.1) scale(0.92,1)" font-size="7.2" text-anchor="start" fill="#231f20" stroke-width="0.1">VC</text>
<line x1="356.60" y1="209.34" x2="368.30" y2="209.34" stroke="#9cbb3c" stroke-width="1.3"/>
<text transform="translate(371.4,211.94) scale(0.92,1)" font-size="7.2" text-anchor="start" fill="#231f20" stroke-width="0.1">BTZ</text>
<line x1="356.60" y1="218.18" x2="368.30" y2="218.18" stroke="#62a6dc" stroke-width="1.3"/>
<text transform="translate(371.4,220.78) scale(0.92,1)" font-size="7.2" text-anchor="start" fill="#231f20" stroke-width="0.1">DV</text>
<line x1="356.60" y1="227.02" x2="368.30" y2="227.02" stroke="#e9a23b" stroke-width="1.3"/>
<text x="371.4" y="229.62" font-size="7.2" text-anchor="start" fill="#231f20" textLength="28.5" lengthAdjust="spacingAndGlyphs" stroke-width="0.1">DV + BTZ</text>
<line x1="356.60" y1="235.86" x2="368.30" y2="235.86" stroke="#7f4f9f" stroke-width="1.3"/>
<text transform="translate(371.4,238.46) scale(0.92,1)" font-size="7.2" text-anchor="start" fill="#231f20" stroke-width="0.1">LV</text>
<line x1="356.60" y1="244.70" x2="368.30" y2="244.70" stroke="#c9322c" stroke-width="1.3"/>
<text x="371.4" y="247.29999999999998" font-size="7.2" text-anchor="start" fill="#231f20" textLength="27.5" lengthAdjust="spacingAndGlyphs" stroke-width="0.1">LV + BTZ</text>
<text x="302.0" y="317.5" font-size="7.6" text-anchor="start" fill="#231f20" textLength="54.5" lengthAdjust="spacingAndGlyphs" stroke-width="0.12">p-value &lt;0.00001</text>
<text x="310.0" y="326.4" font-size="7.6" text-anchor="start" fill="#231f20" textLength="38.5" lengthAdjust="spacingAndGlyphs" stroke-width="0.12">log rank test</text>
<rect x="0" y="397" width="520" height="1" fill="#c4c4c4"/>
<rect x="0" y="398" width="520" height="1" fill="#4a4a4a"/>
<rect x="0" y="0" width="520" height="1" fill="#111"/>
<rect x="0" y="0" width="1.1" height="399" fill="#111"/>
<rect x="518.8" y="0" width="1.2" height="399" fill="#111"/>
</svg></body></html>
